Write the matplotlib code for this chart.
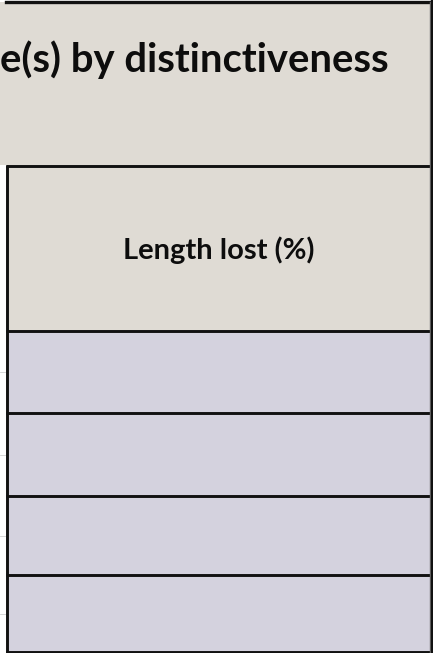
import matplotlib.pyplot as plt
from matplotlib.patches import Rectangle

# table content (cropped slice of a larger table)
title_text = "e(s) by distinctiveness"
column_label = "Length lost (%)"
row_values = ["", "", "", ""]  # the body cells are empty in this slice

header_fill = "#DFDBD4"
body_fill = "#D4D2DE"
edge = "#111111"

W, H = 433, 653
fig = plt.figure(figsize=(W / 100, H / 100), dpi=100)
ax = fig.add_axes([0, 0, 1, 1])
ax.set_xlim(0, W)
ax.set_ylim(H, 0)
ax.axis('off')

left, right = 6, 430
lw = 2.1  # ~3 px

# header cell 1 (merged, extends off to the left)
ax.add_patch(Rectangle((0, 2), right, 163, facecolor=header_fill, edgecolor='none'))
ax.plot([6, W], [1.5, 1.5], color=edge, lw=2.4)
ax.text(0, 60, title_text, fontsize=28.8, fontweight='bold', family='Lato',
        ha='left', va='center', color='#0d0d0d')

# header cell 2
ax.add_patch(Rectangle((left, 165), right - left, 166, facecolor=header_fill, edgecolor='none'))
ax.text((left + right) / 2 + 0.5, 250, column_label, fontsize=21, fontweight='bold', family='Lato',
        ha='center', va='center', color='#0d0d0d')

# body rows
row_edges = [331, 413, 496, 575, 652]
for i, val in enumerate(row_values):
    y0, y1 = row_edges[i], row_edges[i + 1]
    ax.add_patch(Rectangle((left, y0), right - left, y1 - y0, facecolor=body_fill, edgecolor='none'))
    ax.text((left + right) / 2, (y0 + y1) / 2, val, ha='center', va='center', fontsize=12)
    # faint gridline stubs outside the table
    ax.plot([0, left], [(y0 + y1) / 2] * 2, color='#cfcfcf', lw=0.6)

# horizontal borders
for y in [165.5] + row_edges:
    ax.plot([left, right + 2], [y, y], color=edge, lw=lw, solid_capstyle='butt')

# vertical borders
ax.plot([left + 0.5, left + 0.5], [165, 653], color=edge, lw=lw, solid_capstyle='butt')
ax.plot([429.5, 429.5], [2, 653], color='#6e6e6e', lw=1.0)
ax.plot([431.5, 431.5], [0, 653], color=edge, lw=2.4)

fig.savefig("out.png", dpi=100, facecolor='white')
